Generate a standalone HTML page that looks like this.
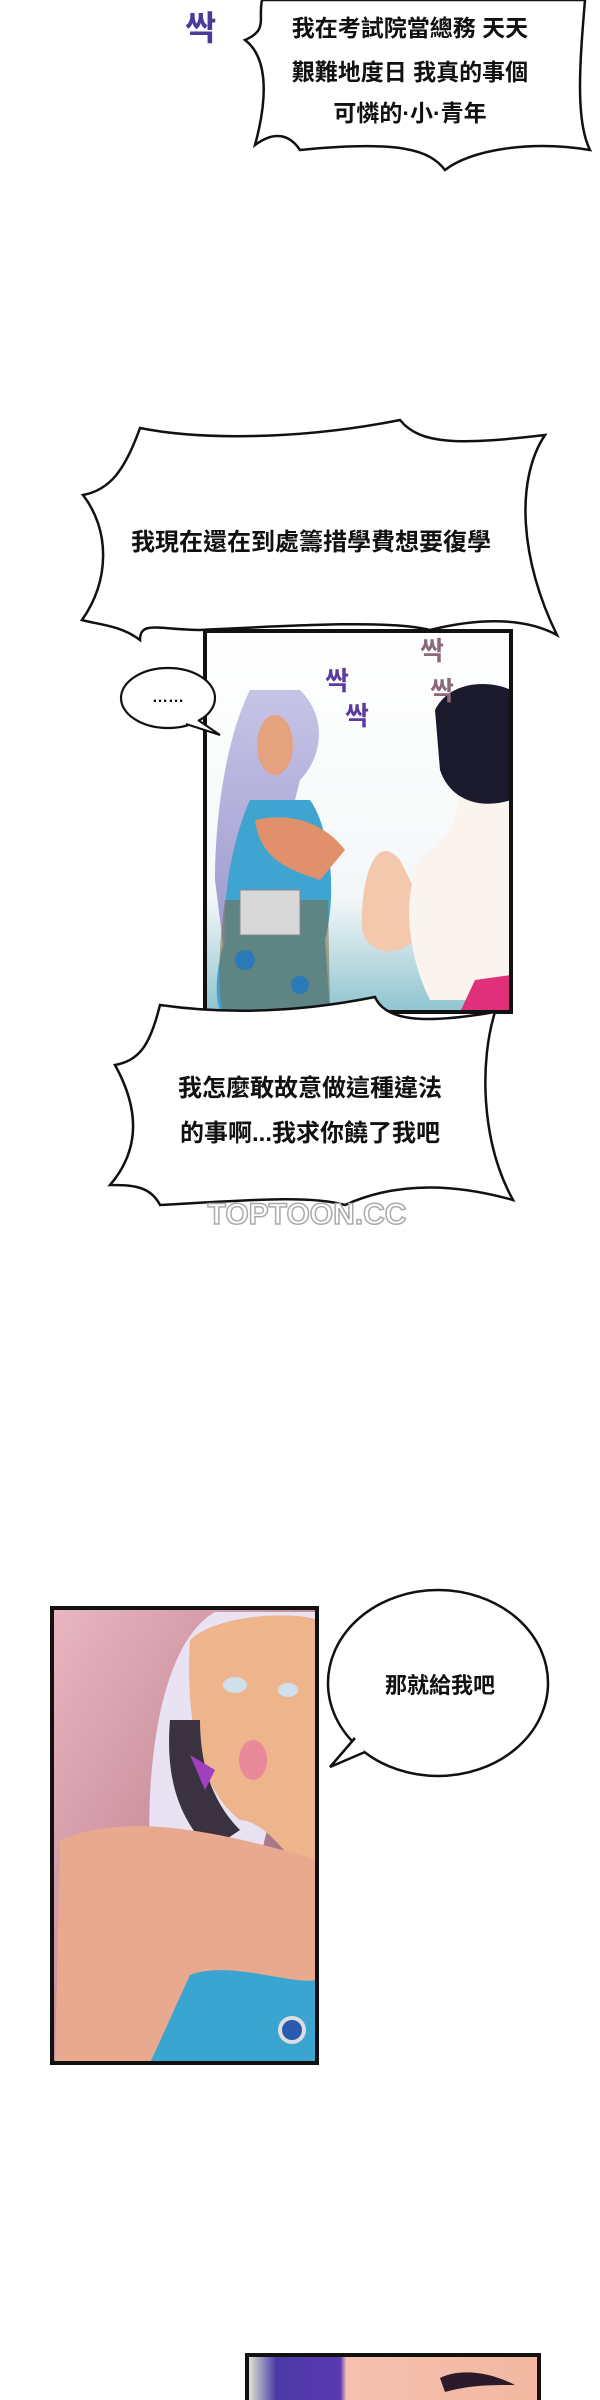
<!DOCTYPE html>
<html><head><meta charset="utf-8"><style>
html,body{margin:0;padding:0;background:#fff;width:600px;height:2400px;overflow:hidden}
svg{display:block}
text{font-family:"Liberation Sans","Noto Sans CJK TC",sans-serif;font-weight:bold;fill:#111}
</style></head><body>
<svg width="600" height="2400" viewBox="0 0 600 2400">
<defs>
<linearGradient id="bg1" x1="0" y1="0" x2="0" y2="1"><stop offset="0" stop-color="#fff"/><stop offset="0.7" stop-color="#f4f7f8"/><stop offset="1" stop-color="#8fc4cf"/></linearGradient>
<linearGradient id="bg2" x1="0" y1="0" x2="1" y2="1"><stop offset="0" stop-color="#e8b6c2"/><stop offset="0.5" stop-color="#c98d9b"/><stop offset="1" stop-color="#6b5468"/></linearGradient>
<linearGradient id="hair" x1="0" y1="0" x2="0" y2="1"><stop offset="0" stop-color="#c6c4e6"/><stop offset="1" stop-color="#9a97cc"/></linearGradient>
<linearGradient id="bg3" x1="0" y1="0" x2="1" y2="0"><stop offset="0" stop-color="#e8f0d8"/><stop offset="0.1" stop-color="#4a3aa8"/><stop offset="0.32" stop-color="#5a3ab0"/><stop offset="0.34" stop-color="#f5c0b0"/><stop offset="1" stop-color="#f2b8a0"/></linearGradient>
</defs>

<text x="185" y="40" font-size="34" style="fill:#4a3a9a">싹</text>

<path d="M262,0 C258,20 268,30 245,40 C265,55 270,90 255,145 C275,130 290,135 300,150 C400,140 430,150 445,170 C470,150 530,140 590,150 C575,120 580,60 585,0 Z" fill="#fff" stroke="#111" stroke-width="2.5"/>
<g font-size="23" text-anchor="middle">
<text x="410" y="36">我在考試院當總務 天天</text>
<text x="410" y="80">艱難地度日 我真的事個</text>
<text x="410" y="121">可憐的·小·青年</text>
</g>

<path d="M140,428 C200,440 300,440 400,420 C420,445 460,445 545,435 C515,480 520,560 557,635 C520,615 470,620 430,630 C390,620 300,625 200,630 C160,630 140,620 140,640 C120,625 100,625 82,620 C110,580 110,530 83,495 C110,490 125,470 140,428 Z" fill="#fff" stroke="#111" stroke-width="2.5"/>
<text x="311" y="550" font-size="24" text-anchor="middle">我現在還在到處籌措學費想要復學</text>

<g>
<rect x="205" y="631" width="306" height="381" fill="url(#bg1)"/>
<path d="M250,690 C225,740 215,820 215,880 L225,960 L255,960 L300,780 C320,760 330,720 300,690 Z" fill="url(#hair)"/>
<path d="M250,800 C232,840 222,900 225,940 C215,970 215,1000 220,1010 L330,1010 L325,940 C340,880 325,820 310,800 Z" fill="#3fa4d0"/>
<path d="M225,900 C218,950 218,990 222,1010 L330,1010 L328,900 Z" fill="#7a6a45" opacity="0.55"/>
<circle cx="245" cy="960" r="10" fill="#2a7ab8"/><circle cx="300" cy="985" r="9" fill="#2a7ab8"/><circle cx="285" cy="840" r="8" fill="#2a7ab8"/>
<ellipse cx="275" cy="745" rx="18" ry="30" fill="#e5a27e"/>
<path d="M255,820 C300,810 330,830 345,850 L320,880 C290,870 260,860 255,820 Z" fill="#e0906a"/>
<rect x="240" y="890" width="60" height="45" fill="#d8d8d8" stroke="#888"/>
<path d="M400,860 C375,830 360,880 362,930 C370,960 410,960 430,920 Z" fill="#f3c8ad"/>
<path d="M440,760 C480,740 520,760 511,780 L511,1000 L430,1000 C410,960 400,900 420,860 C460,830 470,800 440,760 Z" fill="#fbf3ee"/>
<path d="M435,710 C450,680 490,680 511,690 L511,800 C480,810 450,800 440,770 Z" fill="#1a1a2c"/>
<path d="M475,980 L511,975 L511,1012 L460,1012 Z" fill="#e0307a"/>
<text x="325" y="690" font-size="26" style="fill:#5a3aa0">싹</text>
<text x="345" y="725" font-size="26" style="fill:#5a3aa0">싹</text>
<text x="420" y="660" font-size="26" style="fill:#8a6a7a">싹</text>
<text x="430" y="700" font-size="26" style="fill:#8a6a7a">싹</text>
<rect x="205" y="631" width="306" height="381" fill="none" stroke="#111" stroke-width="4"/>
</g>

<ellipse cx="168" cy="698" rx="47" ry="30" fill="#fff" stroke="#111" stroke-width="2.2"/>
<path d="M198,720 L220,735 L186,724" fill="#fff" stroke="#111" stroke-width="2"/>
<text x="168" y="702" font-size="16" text-anchor="middle">……</text>

<path d="M160,1005 C230,1015 300,1012 375,997 C385,1020 420,1025 495,1012 C480,1060 480,1140 513,1200 C460,1185 400,1180 345,1205 C310,1195 250,1200 160,1205 C150,1185 130,1185 110,1185 C140,1150 140,1110 115,1065 C140,1060 150,1045 160,1005 Z" fill="#fff" stroke="#111" stroke-width="2.5"/>
<g font-size="24" text-anchor="middle">
<text x="310" y="1096">我怎麼敢故意做這種違法</text>
<text x="310" y="1141">的事啊...我求你饒了我吧</text>
</g>
<text x="307" y="1224" font-size="30" text-anchor="middle" style="fill:#fff;stroke:#aaa;stroke-width:1.5">TOPTOON.CC</text>

<g>
<rect x="52" y="1608" width="265" height="455" fill="url(#bg2)"/>
<path d="M215,1612 C165,1640 145,1750 150,1860 L260,1860 L317,1612 Z" fill="#e8e2f2"/>
<path d="M190,1640 C220,1612 300,1612 317,1620 L317,1900 C290,1850 260,1820 240,1820 C200,1790 185,1720 190,1640 Z" fill="#eeb48c"/>
<path d="M170,1720 C165,1780 180,1820 210,1850 L240,1830 C210,1800 200,1760 200,1720 Z" fill="#3a3240"/>
<ellipse cx="235" cy="1685" rx="12" ry="8" fill="#cfe0ea"/><ellipse cx="288" cy="1690" rx="10" ry="7" fill="#cfe0ea"/>
<ellipse cx="253" cy="1760" rx="14" ry="20" fill="#e88a9a"/>
<path d="M190,1755 L205,1790 L215,1770 Z" fill="#a040c0"/>
<path d="M60,1840 C120,1815 200,1825 317,1860 L317,2063 L55,2063 Z" fill="#e8a98e"/>
<path d="M190,1975 C230,1960 290,1985 317,1980 L317,2063 L150,2063 Z" fill="#3aa5d0"/>
<circle cx="292" cy="2030" r="12" fill="#2a5ab0" stroke="#ddd" stroke-width="4"/>
<rect x="52" y="1608" width="265" height="455" fill="none" stroke="#111" stroke-width="4"/>
</g>

<ellipse cx="438" cy="1683" rx="110" ry="93" fill="#fff" stroke="#111" stroke-width="2.5"/>
<path d="M355,1738 L330,1767 L365,1752" fill="#fff" stroke="#111" stroke-width="2.5"/>
<text x="440" y="1693" font-size="22" text-anchor="middle">那就給我吧</text>

<g>
<rect x="247" y="2355" width="292" height="50" fill="url(#bg3)"/>
<path d="M440,2378 C460,2368 490,2372 515,2385 C490,2385 470,2385 445,2392 Z" fill="#2a1a2a"/>
<rect x="247" y="2355" width="292" height="50" fill="none" stroke="#111" stroke-width="4"/>
</g>
</svg>
</body></html>
